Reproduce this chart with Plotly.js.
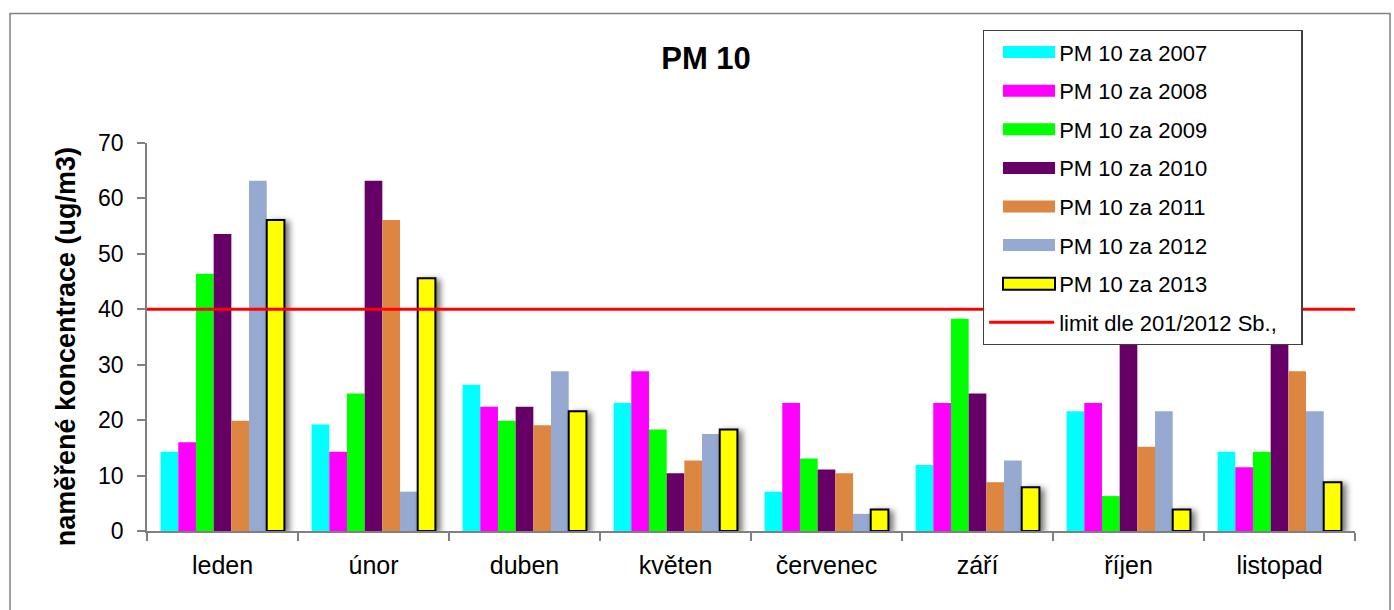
<!DOCTYPE html>
<html>
<head>
<meta charset="utf-8">
<script src="https://cdn.plot.ly/plotly-3.0.1.min.js"></script>
<style>html,body{margin:0;padding:0;background:#fff;} #chart{width:1394px;height:610px;}</style>
</head>
<body>
<div id="chart"></div>
<script>
var categories = ['leden', 'únor', 'duben', 'květen', 'červenec', 'září', 'říjen', 'listopad'];
var seriesNames = ['PM 10 za 2007', 'PM 10 za 2008', 'PM 10 za 2009', 'PM 10 za 2010', 'PM 10 za 2011', 'PM 10 za 2012', 'PM 10 za 2013'];
var pm2007 = [14.3, 19.2, 26.4, 23.1, 7.1, 11.9, 21.6, 14.3];
var pm2008 = [16.0, 14.3, 22.4, 28.8, 23.1, 23.1, 23.1, 11.5];
var pm2009 = [46.4, 24.8, 19.9, 18.3, 13.1, 38.3, 6.3, 14.3];
var pm2010 = [53.6, 63.2, 22.4, 10.4, 11.1, 24.8, 45.0, 50.0];
var pm2011 = [19.9, 56.1, 19.1, 12.7, 10.4, 8.8, 15.2, 28.8];
var pm2012 = [63.2, 7.1, 28.8, 17.5, 3.1, 12.7, 21.6, 21.6];
var pm2013 = [56.1, 45.6, 21.6, 18.3, 3.9, 7.9, 3.9, 8.8];
var limitName = 'limit dle 201/2012 Sb.,';
var limitValue = [40, 40];
var limitSpan = [0, 1];
var yTicks = [0, 10, 20, 30, 40, 50, 60, 70];
var yTitle = 'naměřené koncentrace (ug/m3)';
var chartTitle = 'PM 10';

var colors = ['#00FFFF', '#FF00FF', '#00FF00', '#660066', '#DC8642', '#95A9D1', '#FFFF00'];
var allSeries = [pm2007, pm2008, pm2009, pm2010, pm2011, pm2012, pm2013];

var traces = allSeries.map(function (vals, i) {
  var isLast = (i === allSeries.length - 1);
  return {
    type: 'bar',
    name: seriesNames[i],
    x: categories,
    y: vals,
    legendgroup: 'g' + i,
    marker: {
      color: colors[i],
      line: isLast ? {color: '#000000', width: 2} : {width: 0}
    },
    hoverinfo: 'x+y+name'
  };
});

traces.push({
  type: 'scatter',
  mode: 'lines',
  name: limitName,
  x: limitSpan,
  y: limitValue,
  xaxis: 'x2',
  yaxis: 'y',
  legendgroup: 'glimit',
  line: {color: '#FF0000', width: 3}
});

var font = 'Liberation Sans, Arial, sans-serif';

var layout = {
  width: 1394,
  height: 610,
  margin: {l: 147, r: 39, t: 143, b: 79},
  paper_bgcolor: '#ffffff',
  plot_bgcolor: '#ffffff',
  font: {family: font, color: '#000000'},
  barmode: 'group',
  bargap: 0.18,
  bargroupgap: 0,
  showlegend: true,
  title: {
    text: '<b>' + chartTitle + '</b>',
    font: {family: font, size: 31, color: '#000000'},
    x: 0.5065, xref: 'container', xanchor: 'center',
    y: 0.905, yref: 'container', yanchor: 'middle'
  },
  xaxis: {
    type: 'category',
    showgrid: false,
    showline: true,
    linecolor: '#808080',
    linewidth: 1.5,
    ticks: 'outside',
    tickson: 'boundaries',
    ticklen: 8,
    tickcolor: '#808080',
    tickwidth: 1.5,
    ticklabelstandoff: 11,
    tickfont: {family: font, size: 25, color: '#000000'},
    zeroline: false,
    fixedrange: true
  },
  xaxis2: {
    overlaying: 'x',
    range: [0, 1],
    visible: false,
    fixedrange: true
  },
  yaxis: {
    range: [0, 70],
    tickvals: yTicks,
    showgrid: false,
    zeroline: false,
    showline: true,
    linecolor: '#808080',
    linewidth: 1.5,
    ticks: 'outside',
    ticklen: 8,
    tickcolor: '#808080',
    tickwidth: 1.5,
    ticklabelstandoff: 9,
    tickfont: {family: font, size: 23, color: '#000000'},
    fixedrange: true
  },
  annotations: [{
    text: '<b>' + yTitle + '</b>',
    xref: 'paper', yref: 'paper',
    x: -0.067, y: 0.474,
    xanchor: 'center', yanchor: 'middle',
    textangle: -90,
    showarrow: false,
    font: {family: font, size: 27, color: '#000000'}
  }],
  legend: {
    x: 0.692, xanchor: 'left',
    y: 1.291, yanchor: 'top',
    bgcolor: '#ffffff',
    bordercolor: '#404040',
    borderwidth: 1.2,
    font: {family: font, size: 22, color: '#000000'},
    traceorder: 'grouped',
    tracegroupgap: 7,
    itemwidth: 65,
    maxheight: 600
  },
  shapes: [{
    type: 'rect', xref: 'paper', yref: 'paper',
    x0: -0.1134, x1: 1.029, y0: -0.25, y1: 1.334,
    line: {color: '#808080', width: 1.5},
    fillcolor: 'rgba(0,0,0,0)',
    layer: 'below'
  }]
};

Plotly.newPlot('chart', traces, layout, {displayModeBar: false}).then(function () {
  var barTraces = document.querySelectorAll('.barlayer .trace');
  if (barTraces.length >= 7) {
    barTraces[6].style.filter = 'drop-shadow(4px 2px 3px rgba(0,0,0,0.55))';
  }
  // widen legend symbols to wide rectangles like the original
  var absX0 = 1003, absX1 = 1055;
  var paths = document.querySelectorAll('.legend .legendpoints path');
  paths.forEach(function (p) {
    var ctm = p.getScreenCTM();
    if (!ctm) return;
    var lx0 = (absX0 - ctm.e) / ctm.a;
    var lx1 = (absX1 - ctm.e) / ctm.a;
    var cls = p.getAttribute('class') || '';
    if (cls.indexOf('js-line') >= 0 || (p.parentNode.getAttribute('class') || '').indexOf('legendlines') >= 0) {
      p.setAttribute('d', 'M' + lx0 + ',0H' + lx1);
    } else {
      p.setAttribute('d', 'M' + lx1 + ',6H' + lx0 + 'V-6H' + lx1 + 'Z');
    }
  });
  // widen the legend box to the original's width
  var bg = document.querySelector('.legend .bg');
  if (bg) {
    var r = bg.getBoundingClientRect();
    var w = parseFloat(bg.getAttribute('width'));
    var target = 1302 - r.left;
    if (target > w) bg.setAttribute('width', target);
  }
});
</script>
</body>
</html>
